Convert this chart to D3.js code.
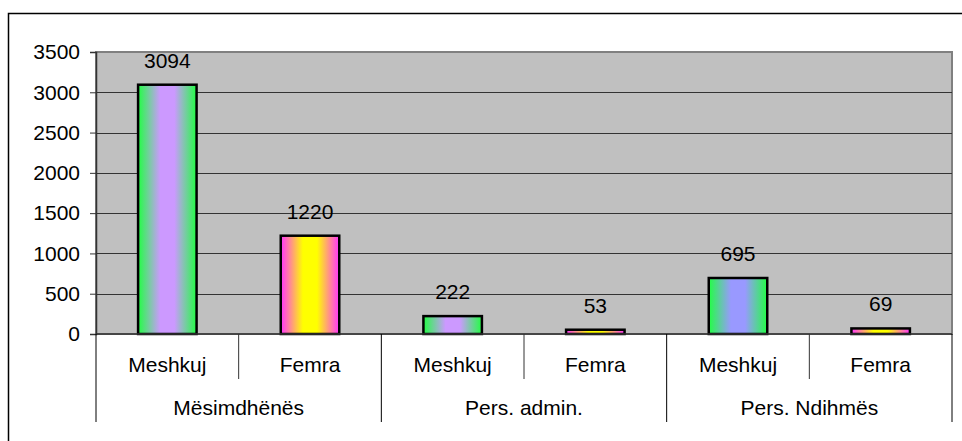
<!DOCTYPE html>
<html>
<head>
<meta charset="utf-8">
<script src="https://cdn.jsdelivr.net/npm/d3@7"></script>
<style>
  html, body { margin: 0; background: #fff; overflow: hidden; }
  svg { display: block; }
  svg text { font-family: Arial, "Liberation Sans", sans-serif; font-size: 21px; fill: #000; }
</style>
</head>
<body>
<div id="chart"></div>
<script>
// data
var groups = ["Mësimdhënës", "Pers. admin.", "Pers. Ndihmës"];
var genders = ["Meshkuj", "Femra"];
var values = [3094, 1220, 222, 53, 695, 69];
var yTicks = [0, 500, 1000, 1500, 2000, 2500, 3000, 3500];

// gradient centre colour for each bar (edges are green / magenta)
var barMid = ["#cc99ff", "#ffff00", "#cc99ff", "#ffff00", "#9999ff", "#ffff00"];

var W = 962, H = 441;
var plotL = 96, plotR = 952, plotT = 52, plotB = 334;

var svg = d3.select("#chart").append("svg").attr("width", W).attr("height", H);

// outer chart border (only top and left edges fall inside the window)
svg.append("path")
    .attr("d", "M8.5," + H + "V13.5H" + W)
    .attr("fill", "none").attr("stroke", "#000").attr("stroke-width", 1.5);

var x0 = d3.scaleBand().domain(groups).range([plotL, plotR]);
var x1 = d3.scaleBand().domain(genders).range([0, x0.bandwidth()]);
var y = d3.scaleLinear().domain([0, 3500]).range([plotB, plotT]);

// gradients
var defs = svg.append("defs");
values.forEach(function(v, i) {
    var edge = (i % 2 == 0) ? "#22ff44" : "#ff33ff";
    var g = defs.append("linearGradient").attr("id", "grad" + i)
        .attr("x1", "0%").attr("x2", "100%").attr("y1", "0%").attr("y2", "0%");
    g.append("stop").attr("offset", "0%").attr("stop-color", edge);
    g.append("stop").attr("offset", "38%").attr("stop-color", barMid[i]);
    g.append("stop").attr("offset", "62%").attr("stop-color", barMid[i]);
    g.append("stop").attr("offset", "100%").attr("stop-color", edge);
});

// plot area
svg.append("rect")
    .attr("x", plotL).attr("y", plotT)
    .attr("width", plotR - plotL).attr("height", plotB - plotT)
    .attr("fill", "#c0c0c0").attr("stroke", "#808080").attr("stroke-width", 2);

// grid lines
svg.selectAll(".grid").data(yTicks.filter(function(d) { return d > 0 && d < 3500; }))
    .enter().append("line")
    .attr("x1", plotL).attr("x2", plotR)
    .attr("y1", function(d) { return Math.round(y(d)) + 0.5; })
    .attr("y2", function(d) { return Math.round(y(d)) + 0.5; })
    .attr("stroke", "#333").attr("stroke-width", 1);

// y axis
var yAxis = svg.append("g").attr("transform", "translate(" + plotL + ",0)")
    .call(d3.axisLeft(y).tickValues(yTicks).tickSize(6).tickPadding(10).tickFormat(d3.format("d")));
yAxis.select(".domain").attr("stroke", "#333").attr("stroke-width", 1.5);
yAxis.selectAll(".tick line").attr("stroke", "#333");
yAxis.selectAll("text").style("font-size", "21px").style("font-family", "Arial, 'Liberation Sans', sans-serif").attr("fill", "#000");

// bars
var rows = [];
for (var i = 0; i < values.length; i++) {
    rows.push({ group: groups[Math.floor(i / 2)], gender: genders[i % 2], value: values[i], idx: i });
}
var bw = x1.bandwidth() * 0.41;
function cx(d) { return x0(d.group) + x1(d.gender) + x1.bandwidth() / 2; }

svg.selectAll(".bar").data(rows).enter().append("rect")
    .attr("x", function(d) { return cx(d) - bw / 2; })
    .attr("y", function(d) { return y(d.value); })
    .attr("width", bw)
    .attr("height", function(d) { return plotB - y(d.value); })
    .attr("fill", function(d) { return "url(#grad" + d.idx + ")"; })
    .attr("stroke", "#000").attr("stroke-width", 2.5);

// value labels
svg.selectAll(".lbl").data(rows).enter().append("text")
    .attr("x", function(d) { return cx(d); })
    .attr("y", function(d) { return y(d.value) - 17; })
    .attr("text-anchor", "middle")
    .text(function(d) { return d.value; });

// x axis baseline
svg.append("line").attr("x1", plotL).attr("x2", plotR)
    .attr("y1", plotB).attr("y2", plotB)
    .attr("stroke", "#333").attr("stroke-width", 1.5);

// category separators
var sepInner = [], sepOuter = [plotL, plotR];
groups.forEach(function(g) {
    if (g != groups[0]) sepOuter.push(x0(g));
    sepInner.push(x0(g) + x1(genders[1]));
});
svg.selectAll(".sepO").data(sepOuter).enter().append("line")
    .attr("x1", function(d) { return d; }).attr("x2", function(d) { return d; })
    .attr("y1", plotB).attr("y2", 422)
    .attr("stroke", "#000").attr("stroke-width", 1);
svg.selectAll(".sepI").data(sepInner).enter().append("line")
    .attr("x1", function(d) { return d; }).attr("x2", function(d) { return d; })
    .attr("y1", plotB).attr("y2", 379)
    .attr("stroke", "#333").attr("stroke-width", 1);

// gender labels
svg.selectAll(".gl").data(rows).enter().append("text")
    .attr("x", function(d) { return cx(d); })
    .attr("y", 372)
    .attr("text-anchor", "middle")
    .text(function(d) { return d.gender; });

// group labels
svg.selectAll(".grp").data(groups).enter().append("text")
    .attr("x", function(d) { return x0(d) + x0.bandwidth() / 2; })
    .attr("y", 415)
    .attr("text-anchor", "middle")
    .text(function(d) { return d; });
</script>
</body>
</html>
